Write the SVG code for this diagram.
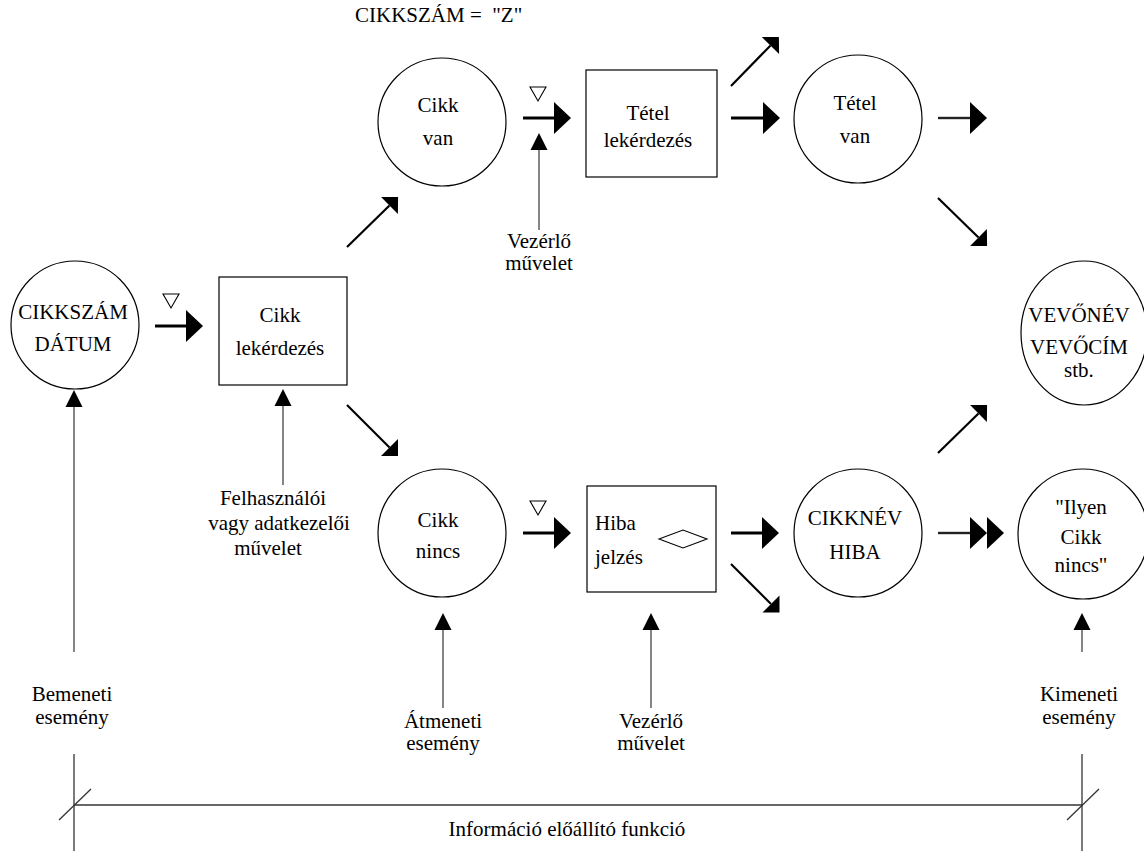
<svg xmlns="http://www.w3.org/2000/svg" width="1144" height="851" viewBox="0 0 1144 851">
  <defs>
    <style>
      text { font-family: "Liberation Serif", "Times New Roman", serif; font-size: 21px; fill: #000; text-anchor: middle; }
      .node { fill: #fff; stroke: #000; stroke-width: 1.2; }
      .flow { stroke: #000; stroke-width: 3; fill: none; }
      .flow2 { stroke: #222; stroke-width: 2.4; fill: none; }
      .diag { stroke: #000; stroke-width: 2.2; fill: none; }
      .event { stroke: #444; stroke-width: 1.3; fill: none; }
      .axis { stroke: #333; stroke-width: 1.3; fill: none; }
      .sym { fill: #fff; stroke: #000; stroke-width: 1.1; }
    </style>
    <marker id="head" markerUnits="userSpaceOnUse" orient="auto" refX="0" refY="0" markerWidth="40" markerHeight="40" overflow="visible">
      <path d="M0,-16 L17,0 L0,16 Z" fill="#000"/>
    </marker>
    <marker id="head2" markerUnits="userSpaceOnUse" orient="auto" refX="0" refY="0" markerWidth="40" markerHeight="40" overflow="visible">
      <path d="M0,-16 L17,0 L0,16 Z M17,-16 L34,0 L17,16 Z" fill="#000"/>
    </marker>
    <marker id="headDiag" markerUnits="userSpaceOnUse" orient="auto" refX="0" refY="0" markerWidth="40" markerHeight="40" overflow="visible">
      <path d="M0,-12 L12,0 L0,12 Z" fill="#000"/>
    </marker>
    <marker id="headThin" markerUnits="userSpaceOnUse" orient="auto" refX="0" refY="0" markerWidth="40" markerHeight="40" overflow="visible">
      <path d="M0,-8.5 L17,0 L0,8.5 Z" fill="#000"/>
    </marker>
  </defs>

  <rect width="1144" height="851" fill="#fff"/>

  <!-- condition label -->
  <text x="355" y="22" style="text-anchor:start" xml:space="preserve">CIKKSZÁM =  "Z"</text>

  <!-- nodes -->
  <g id="cikkszam-datum">
    <circle class="node" cx="75" cy="325" r="64"/>
    <text x="73" y="319">CIKKSZÁM</text>
    <text x="73" y="351">DÁTUM</text>
  </g>
  <g id="cikk-lekerdezes">
    <rect class="node" x="219" y="277" width="128" height="108"/>
    <text x="280" y="322">Cikk</text>
    <text x="280" y="355">lekérdezés</text>
  </g>
  <g id="cikk-van">
    <circle class="node" cx="442" cy="122" r="64"/>
    <text x="438" y="112">Cikk</text>
    <text x="438" y="145">van</text>
  </g>
  <g id="tetel-lekerdezes">
    <rect class="node" x="586" y="70" width="131" height="107"/>
    <text x="648" y="120">Tétel</text>
    <text x="648" y="147">lekérdezés</text>
  </g>
  <g id="tetel-van">
    <circle class="node" cx="858" cy="119" r="64"/>
    <text x="855" y="110">Tétel</text>
    <text x="855" y="143">van</text>
  </g>
  <g id="vevo">
    <ellipse class="node" cx="1084" cy="333" rx="63" ry="72"/>
    <text x="1079" y="322">VEVŐNÉV</text>
    <text x="1079" y="354">VEVŐCÍM</text>
    <text x="1079" y="377">stb.</text>
  </g>
  <g id="cikk-nincs">
    <circle class="node" cx="442" cy="533" r="64"/>
    <text x="438" y="527">Cikk</text>
    <text x="438" y="558">nincs</text>
  </g>
  <g id="hiba-jelzes">
    <rect class="node" x="587" y="486" width="129" height="106"/>
    <text x="595" y="530" style="text-anchor:start">Hiba</text>
    <text x="595" y="564" style="text-anchor:start">jelzés</text>
    <polygon class="sym" points="659,539 683,530 707,539 683,548"/>
  </g>
  <g id="cikknev-hiba">
    <circle class="node" cx="858" cy="533" r="64"/>
    <text x="855" y="525">CIKKNÉV</text>
    <text x="855" y="559">HIBA</text>
  </g>
  <g id="ilyen-cikk-nincs">
    <circle class="node" cx="1083" cy="534" r="65"/>
    <text x="1081" y="514">"Ilyen</text>
    <text x="1081" y="544">Cikk</text>
    <text x="1081" y="572">nincs"</text>
  </g>

  <!-- trigger symbols -->
  <g id="triggers">
    <polygon class="sym" points="163,294 179,294 171,308"/>
    <polygon class="sym" points="530,87 546,87 538,101"/>
    <polygon class="sym" points="530,501 546,501 538,515"/>
  </g>

  <!-- connectors -->
  <g id="connectors">
    <line class="flow" x1="155" y1="326" x2="186" y2="326" marker-end="url(#head)"/>
    <line class="diag" x1="347" y1="247" x2="389.5" y2="205.5" marker-end="url(#headDiag)"/>
    <line class="diag" x1="347" y1="405" x2="389.5" y2="447.5" marker-end="url(#headDiag)"/>
    <line class="flow" x1="523" y1="118" x2="554" y2="118" marker-end="url(#head)"/>
    <line class="diag" x1="731" y1="86" x2="770.5" y2="45.5" marker-end="url(#headDiag)"/>
    <line class="flow" x1="731" y1="118" x2="763" y2="118" marker-end="url(#head)"/>
    <line class="flow2" x1="938" y1="118" x2="970" y2="118" marker-end="url(#head)"/>
    <line class="diag" x1="938" y1="198" x2="978.5" y2="237.5" marker-end="url(#headDiag)"/>
    <line class="diag" x1="938" y1="453" x2="978.5" y2="413.5" marker-end="url(#headDiag)"/>
    <line class="flow" x1="523" y1="533" x2="554" y2="533" marker-end="url(#head)"/>
    <line class="flow" x1="731" y1="533" x2="762" y2="533" marker-end="url(#head)"/>
    <line class="diag" x1="731" y1="564" x2="771" y2="604" marker-end="url(#headDiag)"/>
    <line class="flow2" x1="938" y1="533" x2="970" y2="533" marker-end="url(#head2)"/>

    <!-- event / control inputs -->
    <line class="event" x1="539" y1="230" x2="539" y2="150" marker-end="url(#headThin)"/>
    <line class="event" x1="283" y1="485" x2="283" y2="406" marker-end="url(#headThin)"/>
    <line class="event" x1="443" y1="708" x2="443" y2="630" marker-end="url(#headThin)"/>
    <line class="event" x1="651" y1="708" x2="651" y2="630" marker-end="url(#headThin)"/>
    <line class="event" x1="1082" y1="652" x2="1082" y2="630" marker-end="url(#headThin)"/>
    <line class="event" x1="74" y1="652" x2="74" y2="407" marker-end="url(#headThin)"/>

    <!-- function span -->
    <line class="axis" x1="74" y1="754" x2="74" y2="851"/>
    <line class="axis" x1="1082" y1="754" x2="1082" y2="851"/>
    <line class="axis" x1="74" y1="805" x2="1082" y2="805"/>
    <line class="axis" x1="59" y1="820" x2="91" y2="789"/>
    <line class="axis" x1="1067" y1="820" x2="1099" y2="789"/>
  </g>

  <!-- labels -->
  <g id="labels">
    <text x="539" y="248">Vezérlő</text>
    <text x="539" y="270">művelet</text>
    <text x="273" y="505">Felhasználói</text>
    <text x="279" y="530">vagy adatkezelői</text>
    <text x="268" y="555">művelet</text>
    <text x="443" y="728">Átmeneti</text>
    <text x="443" y="750">esemény</text>
    <text x="651" y="728">Vezérlő</text>
    <text x="651" y="750">művelet</text>
    <text x="72" y="701">Bemeneti</text>
    <text x="72" y="724">esemény</text>
    <text x="1079" y="701">Kimeneti</text>
    <text x="1079" y="724">esemény</text>
    <text x="567" y="836">Információ előállító funkció</text>
  </g>
</svg>
